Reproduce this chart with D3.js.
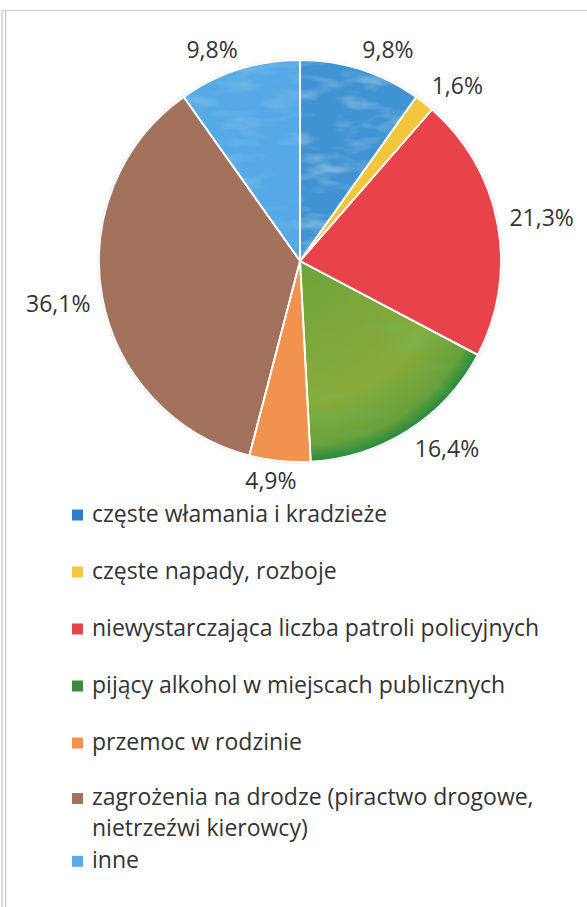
<!DOCTYPE html>
<html>
<head>
<meta charset="utf-8">
<script src="https://cdn.jsdelivr.net/npm/d3@7"></script>
<style>
  html, body { margin: 0; padding: 0; background: #ffffff; }
  svg { display: block; }
</style>
</head>
<body>
<svg id="chart" width="587" height="907"></svg>
<script>
// ---- data ----
const categories = [
  "częste włamania i kradzieże",
  "częste napady, rozboje",
  "niewystarczająca liczba patroli policyjnych",
  "pijący alkohol w miejscach publicznych",
  "przemoc w rodzinie",
  "zagrożenia na drodze (piractwo drogowe, nietrzeźwi kierowcy)",
  "inne"
];
const values = [9.8, 1.6, 21.3, 16.4, 4.9, 36.1, 9.8];
const legendLines = [
  ["częste włamania i kradzieże"],
  ["częste napady, rozboje"],
  ["niewystarczająca liczba patroli policyjnych"],
  ["pijący alkohol w miejscach publicznych"],
  ["przemoc w rodzinie"],
  ["zagrożenia na drodze (piractwo drogowe,", "nietrzeźwi kierowcy)"],
  ["inne"]
];

// ---- styles ----
const colors = ["#3f93d2", "#f1c63c", "#e8424a", "#7aa63a", "#f2924f", "#a3725c", "#55a9e6"];
const legendColors = ["#2b80c8", "#f5c842", "#e8424a", "#3f8a3e", "#f2914f", "#a3725c", "#5aaaea"];
const FONT = "'Open Sans', Lato, sans-serif";
const FS = 23;
const textColor = "#333333";

const svg = d3.select("#chart");
const defs = svg.append("defs");

// frame lines
svg.append("line").attr("x1", 2).attr("x2", 587).attr("y1", 10.5).attr("y2", 10.5)
  .attr("stroke", "#cfcfcf").attr("stroke-width", 1.2);
svg.append("line").attr("x1", 2).attr("x2", 2).attr("y1", 10).attr("y2", 907)
  .attr("stroke", "#c4c4c4").attr("stroke-width", 1.2);
svg.append("line").attr("x1", 5.5).attr("x2", 5.5).attr("y1", 10).attr("y2", 907)
  .attr("stroke", "#c4c4c4").attr("stroke-width", 1.2);

// pie geometry
const cx = 300, cy = 261, r = 201;

// textures
const tf = defs.append("filter").attr("id", "mottle")
  .attr("x", "-10%").attr("y", "-10%").attr("width", "120%").attr("height", "120%");
tf.append("feTurbulence").attr("type", "fractalNoise").attr("baseFrequency", "0.025 0.07")
  .attr("numOctaves", 3).attr("seed", 4).attr("result", "noise");
tf.append("feColorMatrix").attr("in", "noise").attr("type", "matrix")
  .attr("values", "0 0 0 0 1  0 0 0 0 1  0 0 0 0 1  0 0 0 1.6 -0.75").attr("result", "wn");
tf.append("feComposite").attr("in", "wn").attr("in2", "SourceGraphic").attr("operator", "in");

const tg = defs.append("filter").attr("id", "streak")
  .attr("x", "-10%").attr("y", "-10%").attr("width", "120%").attr("height", "120%");
tg.append("feTurbulence").attr("type", "fractalNoise").attr("baseFrequency", "0.012 0.05")
  .attr("numOctaves", 3).attr("seed", 9).attr("result", "noise");
tg.append("feColorMatrix").attr("in", "noise").attr("type", "matrix")
  .attr("values", "0 0 0 0 0.12  0 0 0 0 0.52  0 0 0 0 0.22  0 0 0 1.6 -0.8").attr("result", "gn");
tg.append("feComposite").attr("in", "gn").attr("in2", "SourceGraphic").attr("operator", "in");

const rg = defs.append("radialGradient").attr("id", "greenGrad")
  .attr("gradientUnits", "userSpaceOnUse").attr("cx", 0).attr("cy", 0).attr("r", r);
rg.append("stop").attr("offset", "0%").attr("stop-color", "#6ea23a");
rg.append("stop").attr("offset", "70%").attr("stop-color", "#88ac3b");
rg.append("stop").attr("offset", "92%").attr("stop-color", "#68a03a");
rg.append("stop").attr("offset", "100%").attr("stop-color", "#24893f");

const pie = d3.pie().sort(null).value(d => d);
const arcs = pie(values);
const arc = d3.arc().innerRadius(0).outerRadius(r);

const g = svg.append("g").attr("transform", `translate(${cx},${cy})`);

// faint halo around pie
g.append("circle").attr("r", r + 1).attr("fill", "none").attr("stroke", "#ececec").attr("stroke-width", 1.5);

g.selectAll("path.slice").data(arcs).enter().append("path")
  .attr("class", "slice")
  .attr("d", arc)
  .attr("fill", (d, i) => i === 3 ? "url(#greenGrad)" : colors[i]);

// textures on blue and green
g.append("path").attr("d", arc(arcs[0])).attr("fill", "#ffffff").attr("opacity", 0.5).attr("filter", "url(#mottle)");
g.append("path").attr("d", arc(arcs[6])).attr("fill", "#ffffff").attr("opacity", 0.25).attr("filter", "url(#mottle)");
g.append("path").attr("d", arc(arcs[3])).attr("fill", "#ffffff").attr("opacity", 0.5).attr("filter", "url(#streak)");

// white separators
g.selectAll("path.sep").data(arcs).enter().append("path")
  .attr("class", "sep")
  .attr("d", arc)
  .attr("fill", "none").attr("stroke", "#ffffff").attr("stroke-width", 1.8).attr("stroke-linejoin", "round");

// labels
const fmt = v => d3.format(".1f")(v).replace(".", ",") + "%";
const gap = 12;
const capH = FS * 0.72;
const clamp = v => Math.max(-1, Math.min(1, v));
arcs.forEach((d, i) => {
  const t = g.append("text")
    .attr("font-family", FONT).attr("font-size", FS).attr("fill", textColor)
    .attr("text-anchor", "middle")
    .text(fmt(d.data));
  const w = t.node().getComputedTextLength();
  const a = (d.startAngle + d.endAngle) / 2;
  const s = Math.sin(a), c = Math.cos(a);
  const px = (r + gap) * s, py = -(r + gap) * c;
  const lx = px + clamp(s * 3) * w / 2;
  const ly = py - clamp(c * 3) * capH / 2;
  t.attr("x", lx).attr("y", ly + capH / 2);
});

// legend
const legY0 = 521.5, legStep = 57, lineH = 31.4;
const lg = svg.append("g");
let nextMin = 0;
legendLines.forEach((lines, i) => {
  const y = Math.max(legY0 + i * legStep - (lines.length > 1 ? 1.5 : 0), nextMin);
  lg.append("rect").attr("x", 72).attr("y", y - 12).attr("width", 11).attr("height", 11)
    .attr("fill", legendColors[i]);
  lines.forEach((ln, j) => {
    lg.append("text").attr("x", 92).attr("y", y + j * lineH)
      .attr("font-family", FONT).attr("font-size", FS).attr("fill", textColor)
      .text(ln);
  });
  nextMin = y + lines.length * lineH;
});
</script>
</body>
</html>
